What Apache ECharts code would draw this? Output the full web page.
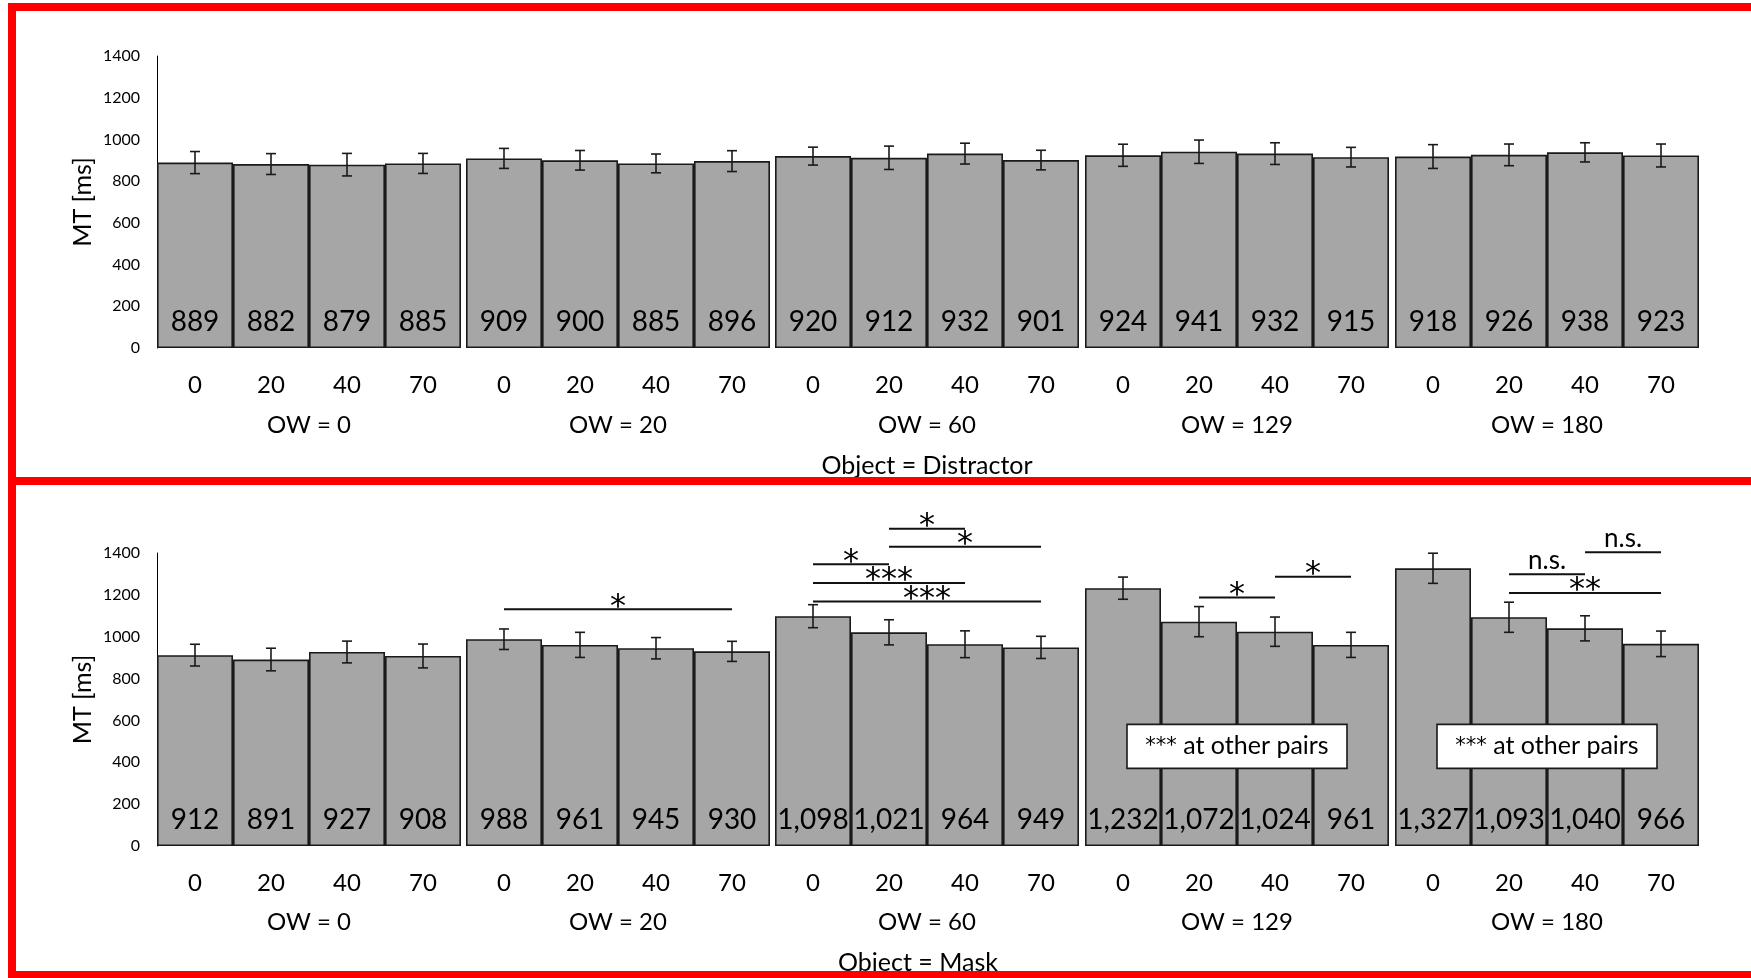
<!DOCTYPE html>
<html>
<head>
<meta charset="utf-8">
<script src="https://cdn.jsdelivr.net/npm/echarts@6/dist/echarts.min.js"></script>
<style>
html,body{margin:0;padding:0;background:#fff;}
#chart{width:1751px;height:978px;}
</style>
</head>
<body>
<div id="chart"></div>
<script>
// ---------- data ----------
const ccLabels = ['0', '20', '40', '70'];
const owLabels = ['OW = 0', 'OW = 20', 'OW = 60', 'OW = 129', 'OW = 180'];
const yTicks = [0, 200, 400, 600, 800, 1000, 1200, 1400];

const distractorMT  = [889, 882, 879, 885, 909, 900, 885, 896, 920, 912, 932, 901, 924, 941, 932, 915, 918, 926, 938, 923];
const distractorErr = [53, 50, 54, 48, 48, 47, 45, 50, 43, 56, 50, 47, 53, 56, 52, 47, 57, 52, 46, 55];

const maskMT  = [912, 891, 927, 908, 988, 961, 945, 930, 1098, 1021, 964, 949, 1232, 1072, 1024, 961, 1327, 1093, 1040, 966];
const maskErr = [52, 54, 52, 57, 49, 60, 51, 48, 55, 60, 64, 53, 53, 72, 70, 60, 72, 72, 60, 61];

// significance brackets for Object = Mask: [group, fromBar, toBar, height (ms), label]
const maskBrackets = [
  [1, 0, 3, 1131, '*'],
  [2, 1, 2, 1516, '*'],
  [2, 1, 3, 1430, '*'],
  [2, 0, 1, 1346, '*'],
  [2, 0, 2, 1257, '***'],
  [2, 0, 3, 1168, '***'],
  [3, 1, 2, 1187, '*'],
  [3, 2, 3, 1287, '*'],
  [4, 2, 3, 1403, 'n.s.'],
  [4, 1, 2, 1298, 'n.s.'],
  [4, 1, 3, 1209, '**']
];
// note boxes for Object = Mask: [group, height (ms), stars, text]
const maskNotes = [
  [3, 476, '***', ' at other pairs'],
  [4, 476, '***', ' at other pairs']
];
const panelTitles = ['Object = Distractor', 'Object = Mask'];

// ---------- layout ----------
const FONT = 'Lato';
const STAR_FONT = 'DejaVu Sans';
const GROUP_LEFT = [157, 466, 775, 1085, 1395];
const GROUP_W = 304;
const PANELS = [
  {top: 56, height: 292, mt: distractorMT, err: distractorErr, brackets: [], notes: [], titleX: 927, titleY: 466, nameGap: 65},
  {top: 553, height: 293, mt: maskMT, err: maskErr, brackets: maskBrackets, notes: maskNotes, titleX: 918, titleY: 963, nameGap: 64}
];

const grids = [], xAxes = [], yAxes = [], series = [];
let gi = 0;
PANELS.forEach((P, pi) => {
  for (let g = 0; g < 5; g++) {
    grids.push({left: GROUP_LEFT[g], width: GROUP_W, top: P.top, height: P.height});
    xAxes.push({
      gridIndex: gi, type: 'category', data: ccLabels,
      axisLine: {show: false}, axisTick: {show: false},
      axisLabel: {fontSize: 24, color: '#000', fontFamily: FONT, margin: 25},
      name: owLabels[g], nameLocation: 'middle', nameGap: P.nameGap,
      nameTextStyle: {fontSize: 24, color: '#000', fontFamily: FONT}
    });
    yAxes.push({
      gridIndex: gi, type: 'value', min: yTicks[0], max: yTicks[yTicks.length - 1], interval: 200,
      splitLine: {show: false}, axisTick: {show: false},
      axisLine: {show: g === 0, lineStyle: {color: '#000', width: 1}},
      axisLabel: {show: g === 0, fontSize: 16, color: '#000', fontFamily: FONT, margin: 17,
        formatter: v => String(v)},
      name: g === 0 ? 'MT [ms]' : '', nameLocation: 'middle', nameGap: 62, nameRotate: 90,
      nameTextStyle: {fontSize: 25, color: '#000', fontFamily: FONT}
    });
    const vals = P.mt.slice(g * 4, g * 4 + 4);
    const errs = P.err.slice(g * 4, g * 4 + 4);
    series.push({
      type: 'bar', xAxisIndex: gi, yAxisIndex: gi, data: vals,
      barWidth: '100%', barCategoryGap: '0%',
      itemStyle: {color: '#a6a6a6', borderColor: '#1a1a1a', borderWidth: 1.6},
      label: {show: true, position: 'insideBottom', distance: 12, fontSize: 28, color: '#000', fontFamily: FONT,
        formatter: p => Number(p.value).toLocaleString('en-US')},
      silent: true, z: 2
    });
    series.push({
      type: 'custom', xAxisIndex: gi, yAxisIndex: gi, z: 4, silent: true, clip: false,
      data: vals.map((v, i) => [i, v - errs[i], v + errs[i]]),
      encode: {x: 0, y: [1, 2]},
      renderItem: (params, api) => {
        const lo = api.coord([api.value(0), api.value(1)]);
        const hi = api.coord([api.value(0), api.value(2)]);
        const hw = 5, st = {stroke: '#1a1a1a', lineWidth: 1.6};
        return {type: 'group', children: [
          {type: 'line', shape: {x1: lo[0], y1: lo[1], x2: hi[0], y2: hi[1]}, style: st},
          {type: 'line', shape: {x1: hi[0] - hw, y1: hi[1], x2: hi[0] + hw, y2: hi[1]}, style: st},
          {type: 'line', shape: {x1: lo[0] - hw, y1: lo[1], x2: lo[0] + hw, y2: lo[1]}, style: st}
        ]};
      }
    });
    const br = P.brackets.filter(b => b[0] === g);
    if (br.length) {
      series.push({
        type: 'custom', xAxisIndex: gi, yAxisIndex: gi, z: 5, silent: true, clip: false,
        data: br.map(b => [b[1], b[2], b[3]]),
        encode: {x: [0, 1], y: 2},
        renderItem: (params, api) => {
          const a = api.coord([api.value(0), api.value(2)]);
          const b = api.coord([api.value(1), api.value(2)]);
          const txt = br[params.dataIndex][4];
          const isStar = txt.indexOf('*') >= 0;
          const ts = isStar
            ? {text: txt, x: (a[0] + b[0]) / 2, y: a[1] - 2, align: 'center', verticalAlign: 'middle',
               fontSize: 32, fontFamily: STAR_FONT, fill: '#000'}
            : {text: txt, x: (a[0] + b[0]) / 2, y: a[1] - 1, align: 'center', verticalAlign: 'bottom',
               fontSize: 26, fontFamily: FONT, fill: '#000'};
          return {type: 'group', children: [
            {type: 'line', shape: {x1: a[0], y1: a[1], x2: b[0], y2: b[1]}, style: {stroke: '#111', lineWidth: 2}},
            {type: 'text', style: ts}
          ]};
        }
      });
    }
    const nt = P.notes.filter(n => n[0] === g);
    if (nt.length) {
      series.push({
        type: 'custom', xAxisIndex: gi, yAxisIndex: gi, z: 6, silent: true, clip: false,
        data: nt.map(n => [1, 2, n[1]]),
        encode: {x: [0, 1], y: 2},
        renderItem: (params, api) => {
          const a = api.coord([api.value(0), api.value(2)]);
          const b = api.coord([api.value(1), api.value(2)]);
          const cx = (a[0] + b[0]) / 2, cy = a[1];
          const w = 220, h = 44;
          const n = nt[params.dataIndex];
          return {type: 'group', children: [
            {type: 'rect', shape: {x: cx - w / 2, y: cy - h / 2, width: w, height: h},
              style: {fill: '#fff', stroke: '#1a1a1a', lineWidth: 1.6}},
            {type: 'text', style: {
              text: '{s|' + n[2] + '}{t|' + n[3] + '}', x: cx, y: cy, align: 'center', verticalAlign: 'middle',
              rich: {
                s: {fontSize: 21, fontFamily: STAR_FONT, fill: '#000', lineHeight: 28},
                t: {fontSize: 25, fontFamily: FONT, fill: '#000', lineHeight: 28}
              }
            }}
          ]};
        }
      });
    }
    gi++;
  }
});

const graphics = [];
PANELS.forEach((P, pi) => {
  graphics.push({type: 'text', style: {text: panelTitles[pi], x: P.titleX, y: P.titleY, align: 'center', verticalAlign: 'middle',
    fontSize: 25, fontFamily: FONT, fill: '#000'}, z: 10});
});
// red frames
const red = {stroke: '#ff0000', lineWidth: 8};
[7, 481, 975].forEach(y => graphics.push({type: 'line', shape: {x1: 8, y1: y, x2: 1760, y2: y}, style: red, z: 20}));
graphics.push({type: 'line', shape: {x1: 12, y1: 3, x2: 12, y2: 985}, style: red, z: 20});

const chart = echarts.init(document.getElementById('chart'), null, {renderer: 'canvas'});
chart.setOption({
  backgroundColor: '#fff',
  animation: false,
  grid: grids, xAxis: xAxes, yAxis: yAxes, series: series,
  graphic: graphics
});
</script>
</body>
</html>
